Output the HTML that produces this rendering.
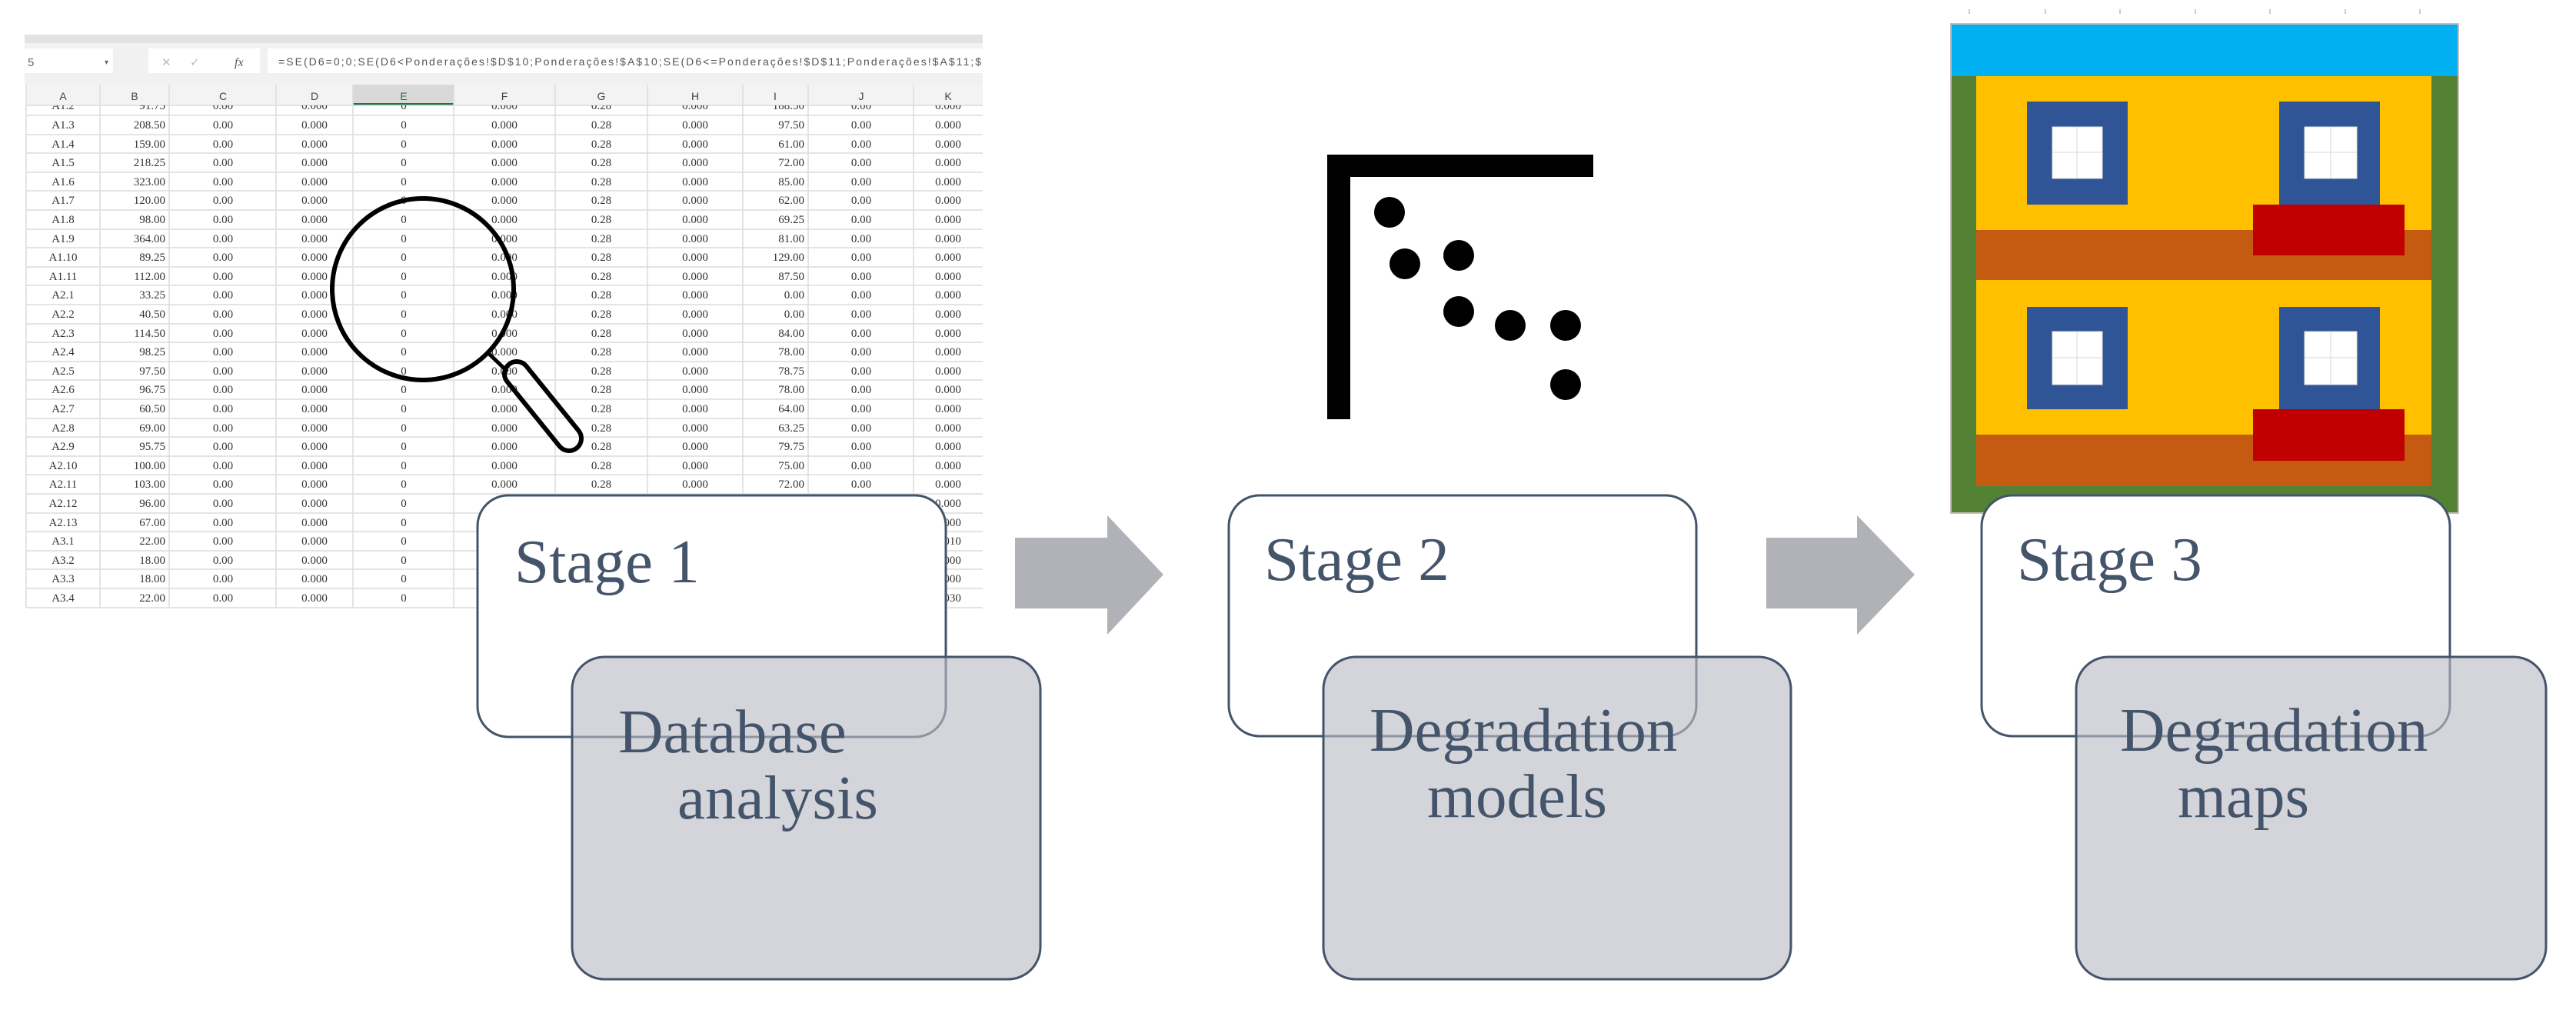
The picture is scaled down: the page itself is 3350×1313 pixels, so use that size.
<!DOCTYPE html>
<html><head><meta charset="utf-8"><style>
html,body{margin:0;padding:0;background:#fff;}
svg{display:block;}
.c{font-family:"Liberation Serif",serif;font-size:15px;fill:#333;text-anchor:middle;}
.r{text-anchor:end;}
.h{font-family:"Liberation Sans",sans-serif;font-size:14px;fill:#444;text-anchor:middle;}
.st{font-family:"Liberation Serif",serif;font-size:81px;fill:#44546a;}
</style></head><body>
<svg width="3350" height="1313" viewBox="0 0 3350 1313" xmlns="http://www.w3.org/2000/svg">
<defs><clipPath id="cl"><rect x="34" y="137" width="1244" height="656"/></clipPath></defs>
<rect x="32" y="45" width="1246" height="66" fill="#f1f1f1"/>
<rect x="32" y="45" width="1246" height="11" fill="#e2e2e2"/>
<rect x="32" y="63" width="115" height="32" fill="#fff"/>
<text x="36" y="86" font-family="Liberation Sans" font-size="15" fill="#666">5</text>
<text x="136" y="84" font-family="Liberation Sans" font-size="10" fill="#666">▾</text>
<rect x="193" y="63" width="145" height="32" fill="#fff"/>
<text x="210" y="86" font-family="Liberation Sans" font-size="15" fill="#bbb">✕</text>
<text x="247" y="86" font-family="Liberation Sans" font-size="15" fill="#bbb">✓</text>
<text x="305" y="86" font-family="Liberation Serif" font-style="italic" font-size="16" fill="#555">fx</text>
<rect x="348" y="63" width="930" height="32" fill="#fff"/>
<text x="362" y="85" font-family="Liberation Sans" font-size="14" fill="#555" textLength="914">=SE(D6=0;0;SE(D6&lt;Ponderações!$D$10;Ponderações!$A$10;SE(D6&lt;=Ponderações!$D$11;Ponderações!$A$11;$</text>
<rect x="34" y="110" width="1244" height="27" fill="#f3f3f3"/>
<rect x="459" y="110" width="131" height="27" fill="#d9d9d9"/>
<rect x="459" y="134" width="131" height="3" fill="#217346"/>
<rect x="34" y="137" width="1244" height="656" fill="#fff"/>
<g stroke="#dcdcdc" stroke-width="1.5">
<line x1="34" y1="110" x2="34" y2="790"/><line x1="130" y1="110" x2="130" y2="790"/><line x1="220" y1="110" x2="220" y2="790"/><line x1="359" y1="110" x2="359" y2="790"/><line x1="459" y1="110" x2="459" y2="790"/><line x1="590" y1="110" x2="590" y2="790"/><line x1="722" y1="110" x2="722" y2="790"/><line x1="842" y1="110" x2="842" y2="790"/><line x1="966" y1="110" x2="966" y2="790"/><line x1="1051" y1="110" x2="1051" y2="790"/><line x1="1188" y1="110" x2="1188" y2="790"/>
<line x1="34" y1="137" x2="1278" y2="137"/>
<line x1="34" y1="150" x2="1278" y2="150"/><line x1="34" y1="175" x2="1278" y2="175"/><line x1="34" y1="199" x2="1278" y2="199"/><line x1="34" y1="224" x2="1278" y2="224"/><line x1="34" y1="248" x2="1278" y2="248"/><line x1="34" y1="273" x2="1278" y2="273"/><line x1="34" y1="298" x2="1278" y2="298"/><line x1="34" y1="322" x2="1278" y2="322"/><line x1="34" y1="347" x2="1278" y2="347"/><line x1="34" y1="371" x2="1278" y2="371"/><line x1="34" y1="396" x2="1278" y2="396"/><line x1="34" y1="421" x2="1278" y2="421"/><line x1="34" y1="445" x2="1278" y2="445"/><line x1="34" y1="470" x2="1278" y2="470"/><line x1="34" y1="494" x2="1278" y2="494"/><line x1="34" y1="519" x2="1278" y2="519"/><line x1="34" y1="544" x2="1278" y2="544"/><line x1="34" y1="568" x2="1278" y2="568"/><line x1="34" y1="593" x2="1278" y2="593"/><line x1="34" y1="617" x2="1278" y2="617"/><line x1="34" y1="642" x2="1278" y2="642"/><line x1="34" y1="667" x2="1278" y2="667"/><line x1="34" y1="691" x2="1278" y2="691"/><line x1="34" y1="716" x2="1278" y2="716"/><line x1="34" y1="740" x2="1278" y2="740"/><line x1="34" y1="765" x2="1278" y2="765"/><line x1="34" y1="790" x2="1278" y2="790"/>
</g>
<g class="h">
<text x="82" y="130">A</text><text x="175" y="130">B</text><text x="290" y="130">C</text><text x="409" y="130">D</text><text x="525" y="130" fill="#217346">E</text><text x="656" y="130">F</text><text x="782" y="130">G</text><text x="904" y="130">H</text><text x="1008" y="130">I</text><text x="1120" y="130">J</text><text x="1233" y="130">K</text>
</g>
<g class="c" clip-path="url(#cl)">
<g transform="translate(0,142)"><text x="82">A1.2</text><text x="215" class="r">91.75</text><text x="290">0.00</text><text x="409">0.000</text><text x="525">0</text><text x="656">0.000</text><text x="782">0.28</text><text x="904">0.000</text><text x="1046" class="r">188.50</text><text x="1120">0.00</text><text x="1233">0.000</text></g>
<g transform="translate(0,167)"><text x="82">A1.3</text><text x="215" class="r">208.50</text><text x="290">0.00</text><text x="409">0.000</text><text x="525">0</text><text x="656">0.000</text><text x="782">0.28</text><text x="904">0.000</text><text x="1046" class="r">97.50</text><text x="1120">0.00</text><text x="1233">0.000</text></g>
<g transform="translate(0,192)"><text x="82">A1.4</text><text x="215" class="r">159.00</text><text x="290">0.00</text><text x="409">0.000</text><text x="525">0</text><text x="656">0.000</text><text x="782">0.28</text><text x="904">0.000</text><text x="1046" class="r">61.00</text><text x="1120">0.00</text><text x="1233">0.000</text></g>
<g transform="translate(0,216)"><text x="82">A1.5</text><text x="215" class="r">218.25</text><text x="290">0.00</text><text x="409">0.000</text><text x="525">0</text><text x="656">0.000</text><text x="782">0.28</text><text x="904">0.000</text><text x="1046" class="r">72.00</text><text x="1120">0.00</text><text x="1233">0.000</text></g>
<g transform="translate(0,241)"><text x="82">A1.6</text><text x="215" class="r">323.00</text><text x="290">0.00</text><text x="409">0.000</text><text x="525">0</text><text x="656">0.000</text><text x="782">0.28</text><text x="904">0.000</text><text x="1046" class="r">85.00</text><text x="1120">0.00</text><text x="1233">0.000</text></g>
<g transform="translate(0,265)"><text x="82">A1.7</text><text x="215" class="r">120.00</text><text x="290">0.00</text><text x="409">0.000</text><text x="525">0</text><text x="656">0.000</text><text x="782">0.28</text><text x="904">0.000</text><text x="1046" class="r">62.00</text><text x="1120">0.00</text><text x="1233">0.000</text></g>
<g transform="translate(0,290)"><text x="82">A1.8</text><text x="215" class="r">98.00</text><text x="290">0.00</text><text x="409">0.000</text><text x="525">0</text><text x="656">0.000</text><text x="782">0.28</text><text x="904">0.000</text><text x="1046" class="r">69.25</text><text x="1120">0.00</text><text x="1233">0.000</text></g>
<g transform="translate(0,315)"><text x="82">A1.9</text><text x="215" class="r">364.00</text><text x="290">0.00</text><text x="409">0.000</text><text x="525">0</text><text x="656">0.000</text><text x="782">0.28</text><text x="904">0.000</text><text x="1046" class="r">81.00</text><text x="1120">0.00</text><text x="1233">0.000</text></g>
<g transform="translate(0,339)"><text x="82">A1.10</text><text x="215" class="r">89.25</text><text x="290">0.00</text><text x="409">0.000</text><text x="525">0</text><text x="656">0.000</text><text x="782">0.28</text><text x="904">0.000</text><text x="1046" class="r">129.00</text><text x="1120">0.00</text><text x="1233">0.000</text></g>
<g transform="translate(0,364)"><text x="82">A1.11</text><text x="215" class="r">112.00</text><text x="290">0.00</text><text x="409">0.000</text><text x="525">0</text><text x="656">0.000</text><text x="782">0.28</text><text x="904">0.000</text><text x="1046" class="r">87.50</text><text x="1120">0.00</text><text x="1233">0.000</text></g>
<g transform="translate(0,388)"><text x="82">A2.1</text><text x="215" class="r">33.25</text><text x="290">0.00</text><text x="409">0.000</text><text x="525">0</text><text x="656">0.000</text><text x="782">0.28</text><text x="904">0.000</text><text x="1046" class="r">0.00</text><text x="1120">0.00</text><text x="1233">0.000</text></g>
<g transform="translate(0,413)"><text x="82">A2.2</text><text x="215" class="r">40.50</text><text x="290">0.00</text><text x="409">0.000</text><text x="525">0</text><text x="656">0.000</text><text x="782">0.28</text><text x="904">0.000</text><text x="1046" class="r">0.00</text><text x="1120">0.00</text><text x="1233">0.000</text></g>
<g transform="translate(0,438)"><text x="82">A2.3</text><text x="215" class="r">114.50</text><text x="290">0.00</text><text x="409">0.000</text><text x="525">0</text><text x="656">0.000</text><text x="782">0.28</text><text x="904">0.000</text><text x="1046" class="r">84.00</text><text x="1120">0.00</text><text x="1233">0.000</text></g>
<g transform="translate(0,462)"><text x="82">A2.4</text><text x="215" class="r">98.25</text><text x="290">0.00</text><text x="409">0.000</text><text x="525">0</text><text x="656">0.000</text><text x="782">0.28</text><text x="904">0.000</text><text x="1046" class="r">78.00</text><text x="1120">0.00</text><text x="1233">0.000</text></g>
<g transform="translate(0,487)"><text x="82">A2.5</text><text x="215" class="r">97.50</text><text x="290">0.00</text><text x="409">0.000</text><text x="525">0</text><text x="656">0.000</text><text x="782">0.28</text><text x="904">0.000</text><text x="1046" class="r">78.75</text><text x="1120">0.00</text><text x="1233">0.000</text></g>
<g transform="translate(0,511)"><text x="82">A2.6</text><text x="215" class="r">96.75</text><text x="290">0.00</text><text x="409">0.000</text><text x="525">0</text><text x="656">0.000</text><text x="782">0.28</text><text x="904">0.000</text><text x="1046" class="r">78.00</text><text x="1120">0.00</text><text x="1233">0.000</text></g>
<g transform="translate(0,536)"><text x="82">A2.7</text><text x="215" class="r">60.50</text><text x="290">0.00</text><text x="409">0.000</text><text x="525">0</text><text x="656">0.000</text><text x="782">0.28</text><text x="904">0.000</text><text x="1046" class="r">64.00</text><text x="1120">0.00</text><text x="1233">0.000</text></g>
<g transform="translate(0,561)"><text x="82">A2.8</text><text x="215" class="r">69.00</text><text x="290">0.00</text><text x="409">0.000</text><text x="525">0</text><text x="656">0.000</text><text x="782">0.28</text><text x="904">0.000</text><text x="1046" class="r">63.25</text><text x="1120">0.00</text><text x="1233">0.000</text></g>
<g transform="translate(0,585)"><text x="82">A2.9</text><text x="215" class="r">95.75</text><text x="290">0.00</text><text x="409">0.000</text><text x="525">0</text><text x="656">0.000</text><text x="782">0.28</text><text x="904">0.000</text><text x="1046" class="r">79.75</text><text x="1120">0.00</text><text x="1233">0.000</text></g>
<g transform="translate(0,610)"><text x="82">A2.10</text><text x="215" class="r">100.00</text><text x="290">0.00</text><text x="409">0.000</text><text x="525">0</text><text x="656">0.000</text><text x="782">0.28</text><text x="904">0.000</text><text x="1046" class="r">75.00</text><text x="1120">0.00</text><text x="1233">0.000</text></g>
<g transform="translate(0,634)"><text x="82">A2.11</text><text x="215" class="r">103.00</text><text x="290">0.00</text><text x="409">0.000</text><text x="525">0</text><text x="656">0.000</text><text x="782">0.28</text><text x="904">0.000</text><text x="1046" class="r">72.00</text><text x="1120">0.00</text><text x="1233">0.000</text></g>
<g transform="translate(0,659)"><text x="82">A2.12</text><text x="215" class="r">96.00</text><text x="290">0.00</text><text x="409">0.000</text><text x="525">0</text><text x="1233">0.000</text></g>
<g transform="translate(0,684)"><text x="82">A2.13</text><text x="215" class="r">67.00</text><text x="290">0.00</text><text x="409">0.000</text><text x="525">0</text><text x="1233">0.000</text></g>
<g transform="translate(0,708)"><text x="82">A3.1</text><text x="215" class="r">22.00</text><text x="290">0.00</text><text x="409">0.000</text><text x="525">0</text><text x="1233">0.010</text></g>
<g transform="translate(0,733)"><text x="82">A3.2</text><text x="215" class="r">18.00</text><text x="290">0.00</text><text x="409">0.000</text><text x="525">0</text><text x="1233">0.000</text></g>
<g transform="translate(0,757)"><text x="82">A3.3</text><text x="215" class="r">18.00</text><text x="290">0.00</text><text x="409">0.000</text><text x="525">0</text><text x="1233">0.000</text></g>
<g transform="translate(0,782)"><text x="82">A3.4</text><text x="215" class="r">22.00</text><text x="290">0.00</text><text x="409">0.000</text><text x="525">0</text><text x="1233">0.030</text></g>
</g>
<circle cx="550" cy="376" r="118" fill="none" stroke="#000" stroke-width="6"/>
<line x1="636" y1="460" x2="660" y2="483" stroke="#000" stroke-width="5"/>
<rect x="636" y="512" width="140" height="32" rx="16" fill="none" stroke="#000" stroke-width="6" transform="rotate(51 706 528)"/>
<polygon points="1320,699 1440,699 1440,670 1513,747 1440,825 1440,791 1320,791" fill="#b0b2b8"/>
<polygon points="2297,699 2415,699 2415,670 2490,747 2415,825 2415,791 2297,791" fill="#b0b2b8"/>
<rect x="1726" y="201" width="30" height="344" fill="#000"/>
<rect x="1726" y="201" width="346" height="29" fill="#000"/>
<g fill="#000">
<circle cx="1807" cy="276" r="20"/><circle cx="1827" cy="343" r="20"/><circle cx="1897" cy="332" r="20"/><circle cx="1897" cy="405" r="20"/><circle cx="1964" cy="423" r="20"/><circle cx="2036" cy="423" r="20"/><circle cx="2036" cy="500" r="20"/>
</g>
<g fill="#ccc"><rect x="2560" y="12" width="2" height="6"/><rect x="2659" y="12" width="2" height="6"/><rect x="2756" y="12" width="2" height="6"/><rect x="2854" y="12" width="2" height="6"/><rect x="2951" y="12" width="2" height="6"/><rect x="3049" y="12" width="2" height="6"/><rect x="3146" y="12" width="2" height="6"/></g>
<rect x="2537" y="31" width="660" height="636" fill="#548235" stroke="#c8bdb8" stroke-width="2"/>
<rect x="2538" y="32" width="658" height="67" fill="#00b0f0"/>
<rect x="2570" y="99" width="592" height="533" fill="#ffc000"/>
<rect x="2570" y="299" width="592" height="65" fill="#c55a11"/>
<rect x="2570" y="565" width="592" height="67" fill="#c55a11"/>
<g fill="#2f5597"><rect x="2636" y="132" width="131" height="134"/><rect x="2964" y="132" width="131" height="134"/><rect x="2636" y="399" width="131" height="133"/><rect x="2964" y="399" width="131" height="133"/></g>
<g fill="#fff" stroke="#ddd" stroke-width="1"><rect x="2669" y="165" width="65" height="67"/><rect x="2997" y="165" width="68" height="67"/><rect x="2669" y="431" width="65" height="69"/><rect x="2997" y="431" width="68" height="69"/></g>
<g stroke="#e4e4e4" stroke-width="1.5"><line x1="2701" y1="165" x2="2701" y2="232"/><line x1="2669" y1="198" x2="2734" y2="198"/><line x1="3031" y1="165" x2="3031" y2="232"/><line x1="2997" y1="198" x2="3065" y2="198"/><line x1="2701" y1="431" x2="2701" y2="500"/><line x1="2669" y1="465" x2="2734" y2="465"/><line x1="3031" y1="431" x2="3031" y2="500"/><line x1="2997" y1="465" x2="3065" y2="465"/></g>
<g fill="#c00000"><rect x="2930" y="266" width="197" height="66"/><rect x="2930" y="532" width="197" height="67"/></g>
<g stroke="#44546a" stroke-width="3">
<rect x="621" y="644" width="609" height="314" rx="40" fill="#fff"/>
<rect x="1598" y="644" width="608" height="313" rx="40" fill="#fff"/>
<rect x="2577" y="644" width="609" height="313" rx="40" fill="#fff"/>
<rect x="744" y="854" width="609" height="419" rx="42" fill="rgba(185,188,196,0.62)"/>
<rect x="1721" y="854" width="608" height="419" rx="42" fill="rgba(185,188,196,0.62)"/>
<rect x="2700" y="854" width="611" height="419" rx="42" fill="rgba(185,188,196,0.62)"/>
</g>
<text class="st" x="669" y="757">Stage 1</text>
<text class="st" x="1644" y="754">Stage 2</text>
<text class="st" x="2623" y="754">Stage 3</text>
<text class="st" x="804" y="978" font-size="83">Database</text>
<text class="st" x="881" y="1064" font-size="83">analysis</text>
<text class="st" x="1781" y="976" font-size="83">Degradation</text>
<text class="st" x="1856" y="1062" font-size="83">models</text>
<text class="st" x="2757" y="976" font-size="83">Degradation</text>
<text class="st" x="2832" y="1062" font-size="83">maps</text>
</svg>
</body></html>
